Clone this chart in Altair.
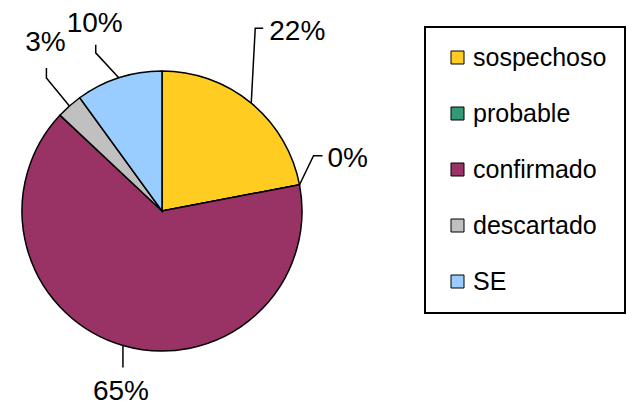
import math
import altair as alt
import pandas as pd

# ---- data ----
categories = ["sospechoso", "probable", "confirmado", "descartado", "SE"]
values = [22, 0, 65, 3, 10]
labels = ["22%", "0%", "65%", "3%", "10%"]
colors = ["#FFCC22", "#339977", "#993366", "#C0C0C0", "#99CCFF"]

# ---- layout ----
W, H = 627, 407
CX, CY, R = 162, 211, 140
FONT = "Liberation Sans"

# leader line segments (px, y up) starting at the slice edge midpoint,
# then text offset (px) and alignment relative to the leader end
leader_segments = {
    "sospechoso": [(4, 75), (8, 0)],
    "probable": [(14, 29), (9, 0)],
    "confirmado": [(0, -22)],
    "descartado": [(-23, 28), (0, 10)],
    "SE": [(-23, 25), (0, 8)],
}
text_offsets = {
    "sospechoso": (6, -12, "left"),
    "probable": (5, -11, "left"),
    "confirmado": (-2, -33, "center"),
    "descartado": (-1, 17, "center"),
    "SE": (-1, 13, "center"),
}

total = sum(values)
pie_df = pd.DataFrame({"category": categories, "value": values, "idx": range(len(values))})

line_rows, text_rows = [], []
cum = 0.0
for cat, v, lab in zip(categories, values, labels):
    mid = (cum + v / 2) / total * 2 * math.pi
    cum += v
    px, py = math.sin(mid), math.cos(mid)
    pts = [(px, py)]
    for dx, dy in leader_segments[cat]:
        px, py = px + dx / R, py + dy / R
        pts.append((px, py))
    for i, (a, b) in enumerate(pts):
        line_rows.append({"category": cat, "step": i, "x": a, "y": b})
    ox, oy, al = text_offsets[cat]
    text_rows.append({"category": cat, "label": lab, "x": px + ox / R, "y": py + oy / R, "align": al})

line_df = pd.DataFrame(line_rows)
text_df = pd.DataFrame(text_rows)

xs = alt.Scale(domain=[-CX / R, (W - CX) / R], nice=False, zero=False)
ys = alt.Scale(domain=[-(H - CY) / R, CY / R], nice=False, zero=False)

pie = alt.Chart(pie_df).mark_arc(outerRadius=R, stroke="black", strokeWidth=1.5).encode(
    theta=alt.Theta("value:Q", stack=True),
    color=alt.Color(
        "category:N",
        sort=categories,
        scale=alt.Scale(domain=categories, range=colors),
        legend=alt.Legend(
            title=None,
            orient="none",
            legendX=425,
            legendY=27,
            strokeColor="black",
            padding=18,
            symbolOffset=2,
            symbolType="square",
            symbolSize=169,
            symbolStrokeColor="black",
            symbolStrokeWidth=1,
            labelFontSize=25,
            labelFont=FONT,
            labelColor="black",
            labelOffset=3,
            rowPadding=30,
        ),
    ),
    order=alt.Order("idx:Q"),
    x=alt.value(CX),
    y=alt.value(CY),
)

leaders = alt.Chart(line_df).mark_line(color="black", strokeWidth=1.5).encode(
    x=alt.X("x:Q", scale=xs, axis=None),
    y=alt.Y("y:Q", scale=ys, axis=None),
    detail="category:N",
    order="step:Q",
)

text_left = alt.Chart(text_df[text_df["align"] == "left"]).mark_text(
    align="left", baseline="alphabetic", fontSize=28, font=FONT, color="black"
).encode(x=alt.X("x:Q", scale=xs, axis=None), y=alt.Y("y:Q", scale=ys, axis=None), text="label:N")

text_center = alt.Chart(text_df[text_df["align"] == "center"]).mark_text(
    align="center", baseline="alphabetic", fontSize=28, font=FONT, color="black"
).encode(x=alt.X("x:Q", scale=xs, axis=None), y=alt.Y("y:Q", scale=ys, axis=None), text="label:N")

chart = (
    alt.layer(pie, leaders, text_left, text_center)
    .properties(width=W, height=H, autosize=alt.AutoSizeParams(type="none"), padding=0, background="white")
    .configure_view(strokeWidth=0)
    .configure_legend(strokeWidth=2)
)

chart.save("out.html", embed_options={"renderer": "svg", "actions": False})
